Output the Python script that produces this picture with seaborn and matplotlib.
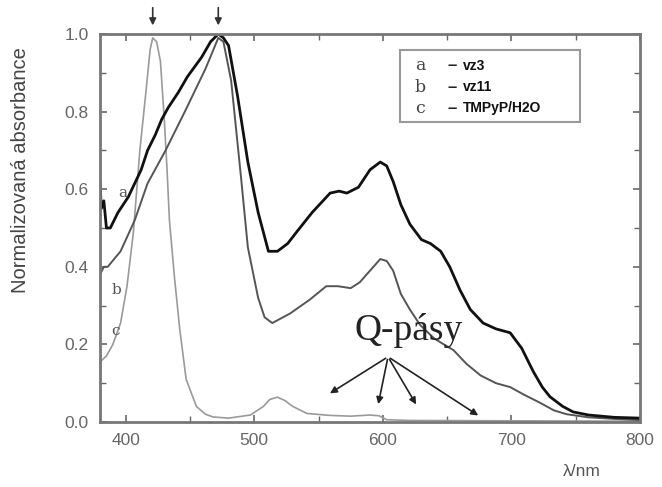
import numpy as np
import pandas as pd
import seaborn as sns
import matplotlib
matplotlib.use("Agg")
import matplotlib.pyplot as plt
from matplotlib.patches import Rectangle

# ---- data ----
a_wl = [380, 381, 383, 385, 388, 394, 402, 412, 417, 423, 428, 433, 441, 448, 459, 466, 472, 476,
        480, 487, 495, 503, 511, 518, 526, 533, 545, 559, 566, 572, 581, 590, 598, 603, 608,
        614, 621, 630, 637, 645, 652, 660, 668, 678, 688, 699, 708, 717, 724, 730, 740, 748,
        760, 780, 800]
a_abs = [0.62, 0.55, 0.57, 0.50, 0.50, 0.54, 0.58, 0.65, 0.70, 0.74, 0.78, 0.81, 0.85, 0.89, 0.94,
         0.98, 1.00, 0.99, 0.97, 0.84, 0.67, 0.54, 0.44, 0.44, 0.46, 0.49, 0.54, 0.59, 0.595,
         0.59, 0.605, 0.65, 0.67, 0.66, 0.62, 0.56, 0.51, 0.47, 0.46, 0.44, 0.40, 0.34, 0.29,
         0.255, 0.24, 0.23, 0.19, 0.13, 0.09, 0.065, 0.04, 0.026, 0.018, 0.012, 0.010]

b_wl = [380, 383, 386, 396, 407, 417, 431, 446, 462, 472, 476, 482, 490, 495, 503, 508, 514,
        528, 543, 556, 565, 575, 582, 590, 598, 603, 608, 614, 621, 629, 640, 655, 665, 676,
        688, 699, 710, 722, 733, 743, 760, 780, 800]
b_abs = [0.38, 0.40, 0.40, 0.44, 0.52, 0.615, 0.70, 0.80, 0.91, 0.99, 0.98, 0.88, 0.62, 0.45,
         0.32, 0.27, 0.255, 0.28, 0.315, 0.35, 0.35, 0.345, 0.36, 0.39, 0.42, 0.415, 0.39,
         0.33, 0.29, 0.25, 0.215, 0.185, 0.15, 0.12, 0.10, 0.09, 0.07, 0.05, 0.03, 0.02,
         0.012, 0.008, 0.005]

c_wl = [380, 385, 390, 396, 401, 406, 411, 416, 419, 421, 424, 427, 430, 432, 434, 438, 442,
        447, 455, 462, 468, 480, 497, 507, 512, 518, 524, 530, 541, 559, 575, 590, 597, 603,
        620, 700, 800]
c_abs = [0.155, 0.17, 0.20, 0.255, 0.35, 0.49, 0.70, 0.86, 0.96, 0.99, 0.98, 0.93, 0.78, 0.66,
         0.52, 0.37, 0.24, 0.11, 0.04, 0.02, 0.013, 0.010, 0.018, 0.04, 0.058, 0.064, 0.055,
         0.04, 0.022, 0.017, 0.015, 0.018, 0.016, 0.006, 0.004, 0.003, 0.002]

legend_letters = ["a", "b", "c"]
legend_names = ["vz3", "vz11", "TMPyP/H2O"]
x_ticks = [400, 500, 600, 700, 800]
y_ticks = [0.0, 0.2, 0.4, 0.6, 0.8, 1.0]
top_arrows_x = [421, 472]
q_origin = (604, 0.168)
q_targets_x = [557, 596, 627, 676]
q_targets_y = [0.07, 0.039, 0.039, 0.013]

# ---- figure ----
sns.set_style("ticks")
plt.rcParams['font.family'] = ['Liberation Sans', 'DejaVu Sans']

fig = plt.figure(figsize=(6.62, 4.87), dpi=100)
ax = fig.add_axes([100 / 662, 1 - 422 / 487, 540 / 662, 388 / 487])

sns.lineplot(x=c_wl, y=c_abs, ax=ax, color="#9a9a9a", lw=1.2, sort=False)
sns.lineplot(x=b_wl, y=b_abs, ax=ax, color="#555555", lw=1.4, sort=False)
sns.lineplot(x=a_wl, y=a_abs, ax=ax, color="#111111", lw=2.0, sort=False)

ax.set_xlim(380, 800)
ax.set_ylim(0, 1.0)
ax.set_xticks(x_ticks)
ax.set_yticks(y_ticks)
ax.set_xticks(np.arange(450, 800, 100), minor=True)
ax.set_yticks(np.arange(0.1, 1.0, 0.2), minor=True)
ax.set_yticklabels([f"{v:.1f}" for v in y_ticks])
ax.tick_params(which="both", direction="in", top=True, right=True, color="#666666")
ax.tick_params(which="major", length=5, width=1.2, labelsize=12.5, labelcolor="#666666", pad=8)
ax.tick_params(which="minor", length=4, width=1.0)
for s in ax.spines.values():
    s.set_color("#777777")
    s.set_linewidth(2)

ax.set_xlabel("")
ax.set_ylabel("Normalizovaná absorbance", fontsize=14.5, color="#444444")
ax.yaxis.set_label_coords(-0.13, 0.65)
fig.text(582 / 662, 1 - 472 / 487, "λ/nm", fontsize=12.5, color="#555555", ha="center", va="center")

# curve labels
ax.text(394, 0.59, "a", fontsize=11, color="#555555", family="DejaVu Serif", va="center")
ax.text(389, 0.34, "b", fontsize=11, color="#555555", family="DejaVu Serif", va="center")
ax.text(389, 0.235, "c", fontsize=11, color="#555555", family="DejaVu Serif", va="center")

# legend box
ax.add_patch(Rectangle((0.556, 0.773), 0.333, 0.186, transform=ax.transAxes,
                       fill=False, edgecolor="#999999", lw=1.5))
rows_y = [0.918, 0.863, 0.809]
for let, name, yy in zip(legend_letters, legend_names, rows_y):
    ax.text(0.583, yy, let, transform=ax.transAxes, fontsize=12.5, family="DejaVu Serif",
            color="#444444", va="center")
    ax.text(0.644, yy, "–", transform=ax.transAxes, fontsize=12, color="#222222", va="center",
            fontweight="bold")
    ax.text(0.672, yy, name, transform=ax.transAxes, fontsize=10, color="#111111",
            va="center", fontweight="bold")

# top arrows
for xx in top_arrows_x:
    ax.annotate("", xy=(xx, 1.015), xytext=(xx, 1.075), xycoords="data",
                annotation_clip=False,
                arrowprops=dict(arrowstyle="-|>", color="#333333", lw=1.2, mutation_scale=10))

# Q-pasy
ax.text(620, 0.235, "Q-pásy", fontsize=27, family="Liberation Serif", color="#222222",
        ha="center", va="center")
for tx, ty in zip(q_targets_x, q_targets_y):
    ax.annotate("", xy=(tx, ty), xytext=q_origin,
                arrowprops=dict(arrowstyle="-|>", color="#222222", lw=1.2, mutation_scale=10))

fig.savefig("out.png", dpi=100)
